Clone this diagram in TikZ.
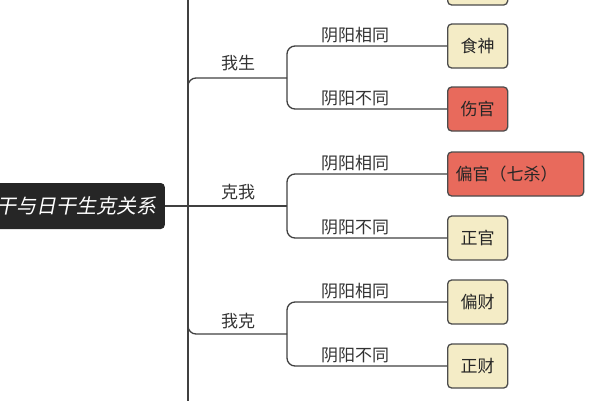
\documentclass[tikz,border=0pt]{standalone}
\usepackage{fontspec}
\setmainfont{Noto Sans CJK SC}
\newfontfamily\slantcjk[FakeSlant=0.2]{Noto Sans CJK SC}
\begin{document}
\begin{tikzpicture}[x=1pt,y=-1pt,
  ln/.style={draw=black!75,line width=1.3pt},
  leaf/.style={draw=black!70,line width=1.3pt,rounded corners=4pt,fill=cream,minimum height=44pt,minimum width=60pt,inner xsep=7pt,font=\fontsize{17}{17}\selectfont,text=black!85,anchor=west},
  hot/.style={leaf,fill=hotred},
  lab/.style={font=\fontsize{17}{17}\selectfont,text=black!80}]
\definecolor{cream}{HTML}{F4ECC6}
\definecolor{hotred}{HTML}{E86A5C}
\useasboundingbox (0,0) rectangle (600,400);
\clip (0,0) rectangle (600,400);
\node[fill=black!85,rounded corners=4pt,text=white,font=\fontsize{20}{20}\slantcjk,minimum height=46pt,anchor=east,inner xsep=8pt] (root) at (165,206) {天干与日干生克关系};
\draw[ln] (188,-10) -- (188,410);
% branches
\draw[ln,rounded corners=8pt] (188,100) |- (287,78);
\draw[ln,rounded corners=8pt] (188,310) |- (287,334);
\draw[ln] (root.east) -- (287,206);
\node[lab] (b1) at (238,63) {我生};
\node[lab] (b2) at (238,192) {克我};
\node[lab] (b3) at (238,321) {我克};
% leaves
\node[leaf] (l0) at (447,-17) {};
\node[leaf] (l1) at (447,46) {食神};
\node[hot] (l2) at (447,109) {伤官};
\node[hot,minimum width=136pt,align=left,text width=120pt] (l3) at (447,174) {偏官（七杀）};
\node[leaf] (l4) at (447,238) {正官};
\node[leaf] (l5) at (447,302) {偏财};
\node[leaf] (l6) at (447,366) {正财};
\foreach \a/\b/\m in {l1/l2/78,l3/l4/206,l5/l6/334}{
  \draw[ln,rounded corners=8pt] (\a.west) -| (287,\m) |- (\b.west);
}
\foreach \n/\t in {l1/阴阳相同,l2/阴阳不同,l3/阴阳相同,l4/阴阳不同,l5/阴阳相同,l6/阴阳不同}{
  \node[lab,anchor=south,inner sep=3pt] at ([xshift=-92pt]\n.west) {\t};
}
\end{tikzpicture}
\end{document}
